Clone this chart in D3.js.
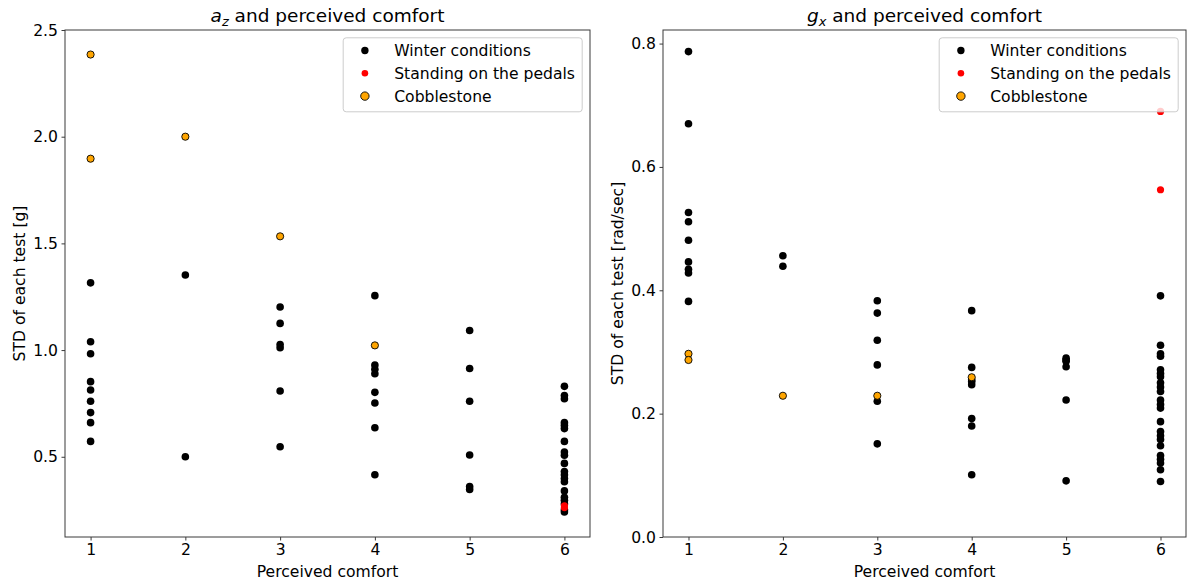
<!DOCTYPE html>
<html>
<head>
<meta charset="utf-8">
<script src="https://cdn.jsdelivr.net/npm/d3@7"></script>
<style>
  html, body { margin: 0; padding: 0; background: #fff; }
  svg { display: block; font-family: "DejaVu Sans", sans-serif; }
</style>
</head>
<body>
<svg id="chart" width="1187" height="585"></svg>
<script>
// ---------------- DATA ----------------
const comfortLevels = [1, 2, 3, 4, 5, 6];
const seriesNames = ["Winter conditions", "Standing on the pedals", "Cobblestone"];

// Left panel: a_z STD [g]  -> [comfort, value]
const azWinter = [
  [1, 1.315], [1, 1.039], [1, 0.983], [1, 0.852], [1, 0.813], [1, 0.760], [1, 0.707], [1, 0.660], [1, 0.572],
  [2, 1.352], [2, 0.500],
  [3, 1.202], [3, 1.125], [3, 1.026], [3, 1.011], [3, 0.808], [3, 0.547],
  [4, 1.255], [4, 0.930], [4, 0.910], [4, 0.889], [4, 0.802], [4, 0.752], [4, 0.636], [4, 0.416],
  [5, 1.092], [5, 0.914], [5, 0.760], [5, 0.508], [5, 0.361], [5, 0.347],
  [6, 0.830], [6, 0.787], [6, 0.772], [6, 0.660], [6, 0.646], [6, 0.632], [6, 0.572], [6, 0.522],
  [6, 0.507], [6, 0.469], [6, 0.431], [6, 0.416], [6, 0.398], [6, 0.383], [6, 0.340], [6, 0.310],
  [6, 0.296], [6, 0.280], [6, 0.252], [6, 0.241]
];
const azStanding = [[6, 0.270], [6, 0.262]];
const azCobble = [[1, 2.385], [1, 1.897], [2, 2.000], [3, 1.533], [4, 1.022]];

// Right panel: g_x STD [rad/sec]
const gxWinter = [
  [1, 0.787], [1, 0.670], [1, 0.526], [1, 0.511], [1, 0.481], [1, 0.446], [1, 0.434], [1, 0.428], [1, 0.382],
  [2, 0.456], [2, 0.439],
  [3, 0.383], [3, 0.363], [3, 0.319], [3, 0.279], [3, 0.220], [3, 0.151],
  [4, 0.367], [4, 0.275], [4, 0.255], [4, 0.252], [4, 0.247], [4, 0.192], [4, 0.180], [4, 0.101],
  [5, 0.290], [5, 0.287], [5, 0.285], [5, 0.276], [5, 0.222], [5, 0.091],
  [6, 0.391], [6, 0.311], [6, 0.297], [6, 0.293], [6, 0.271], [6, 0.265], [6, 0.260], [6, 0.250],
  [6, 0.243], [6, 0.236], [6, 0.222], [6, 0.215], [6, 0.209], [6, 0.187], [6, 0.171], [6, 0.164],
  [6, 0.158], [6, 0.148], [6, 0.132], [6, 0.126], [6, 0.120], [6, 0.109], [6, 0.090]
];
const gxStanding = [[6, 0.690], [6, 0.563]];
const gxCobble = [[1, 0.297], [1, 0.287], [2, 0.229], [3, 0.229], [4, 0.259]];

const azTicks = [0.5, 1.0, 1.5, 2.0, 2.5];
const gxTicks = [0.0, 0.2, 0.4, 0.6, 0.8];
const xLabel = "Perceived comfort";

// ---------------- DRAW ----------------
const svg = d3.select("#chart");
const FS = 15.6;
const plotTop = 30, plotBottom = 537;

const panels = [
  { left: 65, right: 590, yDomain: [0.124, 2.5], ticks: azTicks, tickFmt: d3.format(".1f"),
    titleMain: "a", titleSub: "z", ylabel: "STD of each test [g]", ylabelX: 25,
    winter: azWinter, standing: azStanding, cobble: azCobble },
  { left: 663, right: 1186, yDomain: [0, 0.822], ticks: gxTicks, tickFmt: d3.format(".1f"),
    titleMain: "g", titleSub: "x", ylabel: "STD of each test [rad/sec]", ylabelX: 623,
    winter: gxWinter, standing: gxStanding, cobble: gxCobble }
];

const styles = [
  { fill: "#000000", stroke: "none", r: 3.8, sw: 0 },
  { fill: "#ff0000", stroke: "none", r: 3.6, sw: 0 },
  { fill: "#ffa500", stroke: "#000000", r: 3.6, sw: 0.9 }
];

panels.forEach(p => {
  const x = d3.scaleLinear().domain([0.73, 6.27]).range([p.left, p.right]);
  const y = d3.scaleLinear().domain(p.yDomain).range([plotBottom, plotTop]);
  const g = svg.append("g");

  // points
  [p.winter, p.standing, p.cobble].forEach((data, i) => {
    const s = styles[i];
    g.append("g").selectAll("circle").data(data).join("circle")
      .attr("cx", d => x(d[0])).attr("cy", d => y(d[1]))
      .attr("r", s.r).attr("fill", s.fill)
      .attr("stroke", s.stroke).attr("stroke-width", s.sw);
  });

  // frame
  g.append("rect").attr("x", p.left).attr("y", plotTop)
    .attr("width", p.right - p.left).attr("height", plotBottom - plotTop)
    .attr("fill", "none").attr("stroke", "#3a3a3a").attr("stroke-width", 1);

  // axes
  const xAxis = d3.axisBottom(x).tickValues(comfortLevels).tickFormat(d3.format("d"))
    .tickSize(3.5).tickPadding(3.5);
  const ax = g.append("g").attr("transform", `translate(0,${plotBottom})`).call(xAxis);
  const yAxis = d3.axisLeft(y).tickValues(p.ticks).tickFormat(p.tickFmt)
    .tickSize(3.5).tickPadding(3.5);
  const ay = g.append("g").attr("transform", `translate(${p.left},0)`).call(yAxis);
  [ax, ay].forEach(a => {
    a.select(".domain").remove();
    a.selectAll("line").attr("stroke", "#3a3a3a");
    a.selectAll("text").attr("font-size", FS).attr("fill", "#000")
      .attr("font-family", "DejaVu Sans, sans-serif");
  });

  // title
  const cx = (p.left + p.right) / 2;
  const t = g.append("text").attr("x", cx).attr("y", 22).attr("text-anchor", "middle")
    .attr("font-size", 18.5).attr("fill", "#000");
  t.append("tspan").attr("font-style", "italic").text(p.titleMain);
  t.append("tspan").attr("font-style", "italic").attr("font-size", 13)
    .attr("dy", 4).text(p.titleSub);
  t.append("tspan").attr("dy", -4).text(" and perceived comfort");

  // axis labels
  g.append("text").attr("x", cx).attr("y", 577).attr("text-anchor", "middle")
    .attr("font-size", FS).attr("fill", "#000").text(xLabel);
  g.append("text").attr("transform", `translate(${p.ylabelX},${(plotTop + plotBottom) / 2}) rotate(-90)`)
    .attr("text-anchor", "middle").attr("font-size", FS).attr("fill", "#000").text(p.ylabel);

  // legend
  const lw = 239, lh = 74;
  const lx = p.right - 7.8 - lw, ly = plotTop + 7.8;
  const lg = g.append("g").attr("transform", `translate(${lx},${ly})`);
  lg.append("rect").attr("width", lw).attr("height", lh).attr("rx", 3)
    .attr("fill", "#fff").attr("fill-opacity", 0.8)
    .attr("stroke", "#cccccc").attr("stroke-width", 1);
  seriesNames.forEach((name, i) => {
    const s = styles[i];
    const cy = 12.7 + i * 22.8;
    lg.append("circle").attr("cx", 21.7).attr("cy", cy)
      .attr("r", i === 2 ? 4.2 : (i === 1 ? 3.3 : 3.7))
      .attr("fill", s.fill).attr("stroke", s.stroke).attr("stroke-width", s.sw);
    lg.append("text").attr("x", 51).attr("y", cy).attr("dy", "0.36em")
      .attr("font-size", FS).attr("fill", "#000").text(name);
  });
});
</script>
</body>
</html>
